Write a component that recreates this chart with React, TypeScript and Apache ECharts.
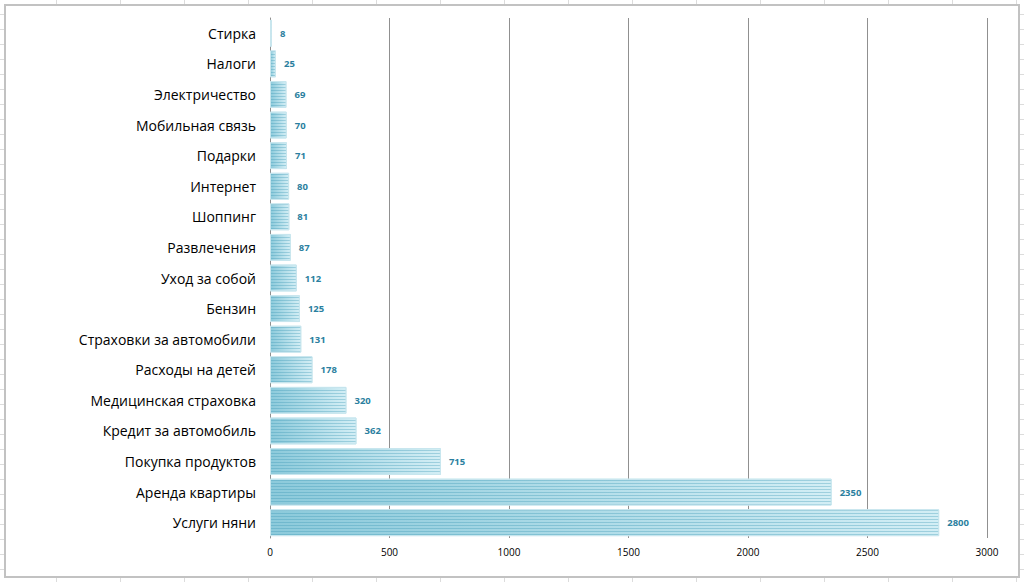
import React, { useEffect, useRef } from "react";
import * as echarts from "echarts";

const categories = [
  "Стирка",
  "Налоги",
  "Электричество",
  "Мобильная связь",
  "Подарки",
  "Интернет",
  "Шоппинг",
  "Развлечения",
  "Уход за собой",
  "Бензин",
  "Страховки за автомобили",
  "Расходы на детей",
  "Медицинская страховка",
  "Кредит за автомобиль",
  "Покупка продуктов",
  "Аренда квартиры",
  "Услуги няни",
];
const values = [8, 25, 69, 70, 71, 80, 81, 87, 112, 125, 131, 178, 320, 362, 715, 2350, 2800];
const xTicks = { min: 0, max: 3000, interval: 500 };

export default function App() {
  const ref = useRef<HTMLDivElement>(null);
  useEffect(() => {
    const chart = echarts.init(ref.current!, null, { renderer: "svg" });
    chart.setOption({
      animation: false,
      grid: { left: 270, right: 37, top: 18, bottom: 44 },
      xAxis: {
        type: "value",
        min: xTicks.min,
        max: xTicks.max,
        interval: xTicks.interval,
        axisLine: { show: false },
        axisTick: { show: false },
        axisLabel: {
          fontSize: 10,
          color: "#000",
          margin: 9,
          fontFamily: "Open Sans",
          formatter: (v: number) => String(v),
        },
        splitLine: { lineStyle: { color: "#909090", width: 1 } },
      },
      yAxis: {
        type: "category",
        data: categories,
        inverse: true,
        axisLine: { lineStyle: { color: "#909090" } },
        axisTick: { length: 5, lineStyle: { color: "#909090" } },
        axisLabel: { fontSize: 14, color: "#000", margin: 14, fontFamily: "Open Sans" },
      },
      series: [
        {
          type: "bar",
          data: values,
          barCategoryGap: "12%",
          itemStyle: {
            color: new echarts.graphic.LinearGradient(0, 0, 1, 0, [
              { offset: 0, color: "#8ccadb" },
              { offset: 1, color: "#d3eef5" },
            ]),
            borderColor: "#c8e6ee",
            borderWidth: 1,
            decal: {
              symbol: "rect",
              symbolSize: 1,
              color: "rgba(60,150,180,0.35)",
              dashArrayX: [1, 0],
              dashArrayY: [1, 2],
              rotation: 0,
            },
          },
          label: {
            show: true,
            position: "right",
            distance: 8,
            fontSize: 9.5,
            fontWeight: "bold",
            color: "#2b7fa0",
            fontFamily: "Open Sans",
          },
        },
      ],
    });
    return () => chart.dispose();
  }, []);

  const bg: React.CSSProperties = {
    position: "fixed",
    left: 0,
    top: 0,
    width: 1024,
    height: 582,
    background: "#fff",
    backgroundImage:
      "repeating-linear-gradient(to right, transparent 0, transparent 56px, #dcdcdc 56px, #dcdcdc 57px, transparent 57px, transparent 64px)," +
      "repeating-linear-gradient(to bottom, transparent 0, transparent 14px, #dcdcdc 14px, #dcdcdc 15px)",
  };
  return (
    <div style={bg}>
      <div
        style={{
          position: "absolute",
          left: 4,
          top: 4,
          width: 1012,
          height: 570,
          border: "2px solid #c2c2c2",
          background: "#fff",
        }}
      />
      <div ref={ref} style={{ position: "absolute", left: 0, top: 0, width: 1024, height: 582 }} />
    </div>
  );
}
